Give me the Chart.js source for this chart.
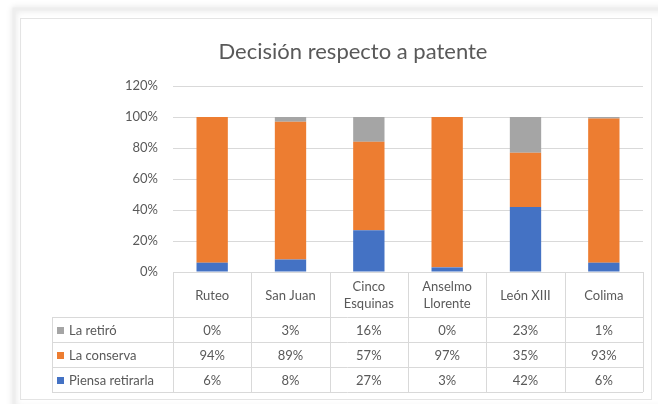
<!DOCTYPE html>
<html>
<head>
<meta charset="utf-8">
<script src="https://cdn.jsdelivr.net/npm/chart.js@4.4.1/dist/chart.umd.min.js"></script>
<style>
  html, body { margin: 0; padding: 0; background: #ffffff; }
  #wrap { position: relative; width: 658px; height: 404px; }
  canvas { display: block; }
</style>
</head>
<body>
<div id="wrap"><canvas id="c" width="658" height="404"></canvas></div>
<script>
// ---- data ----
const categories = [["Ruteo"], ["San Juan"], ["Cinco", "Esquinas"], ["Anselmo", "Llorente"], ["León XIII"], ["Colima"]];
const seriesNames = ["La retiró", "La conserva", "Piensa retirarla"];
const laRetiro = [0, 3, 16, 0, 23, 1];
const laConserva = [94, 89, 57, 97, 35, 93];
const piensaRetirarla = [6, 8, 27, 3, 42, 6];
const yTicks = [0, 20, 40, 60, 80, 100, 120];
const chartTitle = "Decisión respecto a patente";

const COLORS = { retiro: "#A5A5A5", conserva: "#ED7D31", piensa: "#4472C4" };
const TEXT = "#595959";
const GRID = "#d9d9d9";
const FONT = "Lato, 'Open Sans', sans-serif";

const framePlugin = {
  id: "frame",
  beforeDraw(chart) {
    const ctx = chart.ctx;
    ctx.save();
    ctx.fillStyle = "#ffffff";
    ctx.fillRect(0, 0, chart.width, chart.height);
    ctx.shadowColor = "rgba(0,0,0,0.15)";
    ctx.shadowBlur = 6;
    ctx.strokeStyle = "#eeeeee";
    ctx.lineWidth = 3;
    ctx.strokeRect(14, 9, 660, 400);
    ctx.shadowBlur = 0;
    ctx.shadowColor = "transparent";
    ctx.strokeStyle = "#e4e4e4";
    ctx.lineWidth = 1;
    ctx.strokeRect(20.5, 18.5, 631, 381);
    // title
    ctx.fillStyle = TEXT;
    ctx.font = "22px " + FONT;
    ctx.textAlign = "center";
    ctx.textBaseline = "alphabetic";
    ctx.fillText(chartTitle, 353, 59);
    ctx.restore();
  }
};

const tablePlugin = {
  id: "dataTable",
  afterDraw(chart) {
    const ctx = chart.ctx;
    const x = chart.scales.x;
    const area = chart.chartArea;
    const n = categories.length;
    const cw = (area.right - area.left) / n;
    const top = area.bottom;
    const headerBottom = top + 45;
    const rowH = 25;
    const rows = [
      { name: seriesNames[0], color: COLORS.retiro, data: laRetiro },
      { name: seriesNames[1], color: COLORS.conserva, data: laConserva },
      { name: seriesNames[2], color: COLORS.piensa, data: piensaRetirarla }
    ];
    const legendLeft = 52;
    const tableBottom = headerBottom + rowH * rows.length;
    ctx.save();
    ctx.strokeStyle = GRID;
    ctx.lineWidth = 1;
    ctx.beginPath();
    for (let i = 0; i <= n; i++) {
      const px = Math.round(area.left + i * cw) + 0.5;
      ctx.moveTo(px, top);
      ctx.lineTo(px, tableBottom);
    }
    ctx.moveTo(legendLeft + 0.5, headerBottom);
    ctx.lineTo(legendLeft + 0.5, tableBottom);
    for (let r = 0; r <= rows.length; r++) {
      const py = Math.round(headerBottom + r * rowH) + 0.5;
      ctx.moveTo(legendLeft, py);
      ctx.lineTo(area.right, py);
    }
    ctx.stroke();

    ctx.fillStyle = TEXT;
    ctx.font = "13px " + FONT;
    ctx.textAlign = "center";
    ctx.textBaseline = "middle";
    categories.forEach((lab, i) => {
      const cx = x.getPixelForValue(i);
      const cy = (top + headerBottom) / 2 + 1;
      if (lab.length === 1) {
        ctx.fillText(lab[0], cx, cy);
      } else {
        ctx.fillText(lab[0], cx, cy - 8.5);
        ctx.fillText(lab[1], cx, cy + 8.5);
      }
    });
    rows.forEach((row, r) => {
      const cy = headerBottom + r * rowH + rowH / 2 + 1;
      ctx.fillStyle = row.color;
      ctx.fillRect(57, Math.round(cy - 4), 7, 7);
      ctx.fillStyle = TEXT;
      ctx.textAlign = "left";
      ctx.fillText(row.name, 69, cy);
      ctx.textAlign = "center";
      row.data.forEach((v, i) => {
        ctx.fillText(v + "%", x.getPixelForValue(i), cy);
      });
    });
    ctx.restore();
  }
};

const ctx = document.getElementById("c").getContext("2d");
new Chart(ctx, {
  type: "bar",
  data: {
    labels: categories,
    datasets: [
      { label: seriesNames[2], data: piensaRetirarla, backgroundColor: COLORS.piensa },
      { label: seriesNames[1], data: laConserva, backgroundColor: COLORS.conserva },
      { label: seriesNames[0], data: laRetiro, backgroundColor: COLORS.retiro }
    ]
  },
  options: {
    responsive: false,
    animation: false,
    devicePixelRatio: 1,
    layout: { padding: { left: 0, right: 15, top: 86, bottom: 132 } },
    datasets: { bar: { barPercentage: 0.4, categoryPercentage: 1.0, borderWidth: 0 } },
    plugins: { legend: { display: false }, title: { display: false }, tooltip: { enabled: false } },
    scales: {
      x: { stacked: true, display: false },
      y: {
        stacked: true,
        min: 0,
        max: 120,
        afterFit(s) { s.width = 173; },
        afterBuildTicks(s) { s.ticks = yTicks.map(v => ({ value: v })); },
        border: { display: false },
        grid: { color: GRID, drawTicks: false, lineWidth: 1 },
        ticks: {
          padding: 15,
          color: TEXT,
          font: { family: FONT, size: 13 },
          callback: v => v + "%"
        }
      }
    }
  },
  plugins: [framePlugin, tablePlugin]
});
</script>
</body>
</html>
